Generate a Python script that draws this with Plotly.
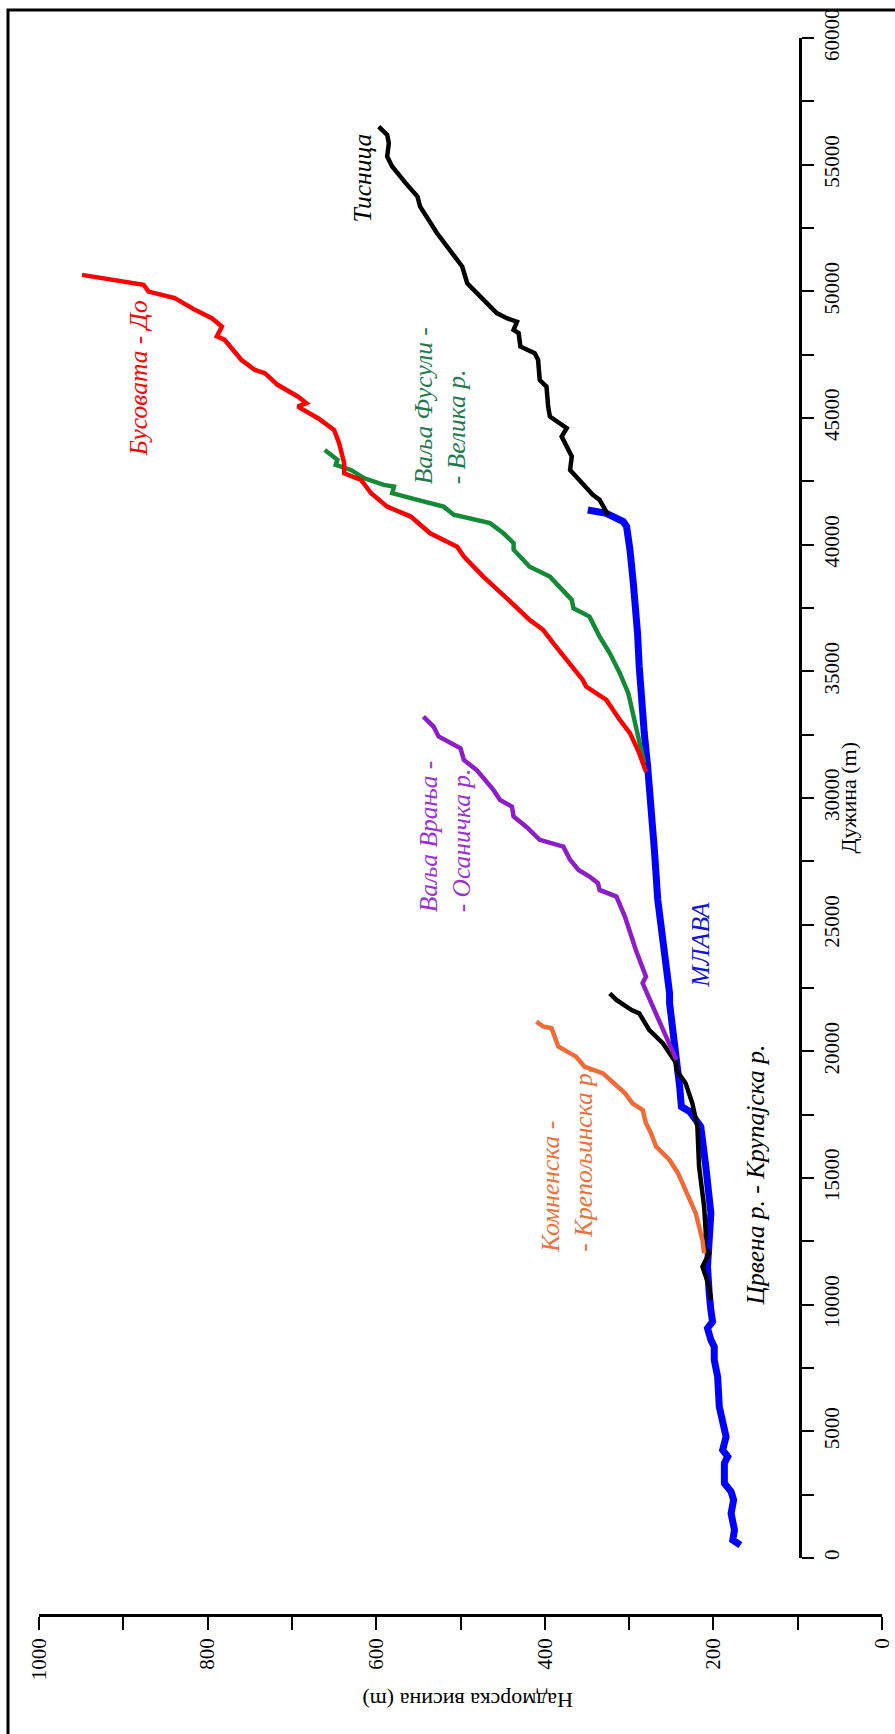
import plotly.graph_objects as go

# ---------------- data (length along river in m, elevation in m) ----------------
mlava_len = [510, 710, 1100, 1500, 1760, 2290, 2620, 2950, 3600, 3740, 4000, 4260, 4790, 5050,
             5650, 5970, 7160, 7420, 7820, 8340, 8610, 9070, 9330, 9790, 10120, 10460, 11500,
             12830, 13620, 15450, 17030, 17620, 17820, 18600, 19400, 20060, 20980, 21900,
             22290, 23340, 24130, 25980, 27950, 29920, 31240, 32560, 33870, 35190, 36510,
             37820, 38480, 39800, 40720, 40910, 41110, 41240, 41370]
mlava_elev = [168, 177, 175, 178, 179, 176, 179, 187, 187, 187, 183, 189, 185, 187,
              191, 193, 195, 197, 199, 199, 203, 207, 201, 203, 205, 205, 207,
              205, 203, 209, 215, 228, 238, 240, 243, 246, 248, 252,
              252, 256, 260, 266, 270, 274, 278, 282, 286, 288, 290,
              292, 295, 299, 303, 307, 319, 327, 349]

busovata_len = [31040, 31770, 32560, 33080, 33870, 34400, 34660, 35580, 36110, 36640, 37030,
                37820, 38740, 39530, 39920, 40450, 41110, 41500, 42030, 42560, 42820, 43220,
                44010, 44530, 44990, 45450, 45590, 45850, 46310, 46770, 46900, 47300, 48090,
                48220, 48610, 48940, 49270, 49730, 49990, 50260, 50650]
busovata_elev = [280, 288, 299, 311, 327, 351, 355, 378, 390, 402, 418,
                 443, 473, 496, 504, 536, 559, 587, 606, 618, 638, 638,
                 644, 650, 669, 693, 683, 693, 717, 732, 744, 760, 780,
                 789, 783, 795, 815, 839, 870, 876, 949]

fusuli_len = [31370, 32290, 33210, 34140, 34930, 35720, 36370, 37160, 37490, 37820, 38740,
              39130, 39800, 40060, 40450, 40850, 41180, 41500, 41770, 42030, 42290, 42360,
              42620, 42950, 43150, 43350, 43740]
fusuli_elev = [282, 288, 294, 301, 311, 323, 335, 347, 366, 368, 394,
               418, 437, 437, 449, 465, 508, 520, 551, 581, 579, 591,
               614, 630, 648, 646, 661]

tisnica_len = [41180, 41770, 41970, 42950, 43480, 43870, 44270, 44600, 45060, 45450, 46240,
               46500, 47300, 47560, 47820, 48350, 48480, 48800, 48940, 49140, 49660, 50320,
               50980, 51250, 52300, 53350, 53740, 54270, 54930, 55320, 55850, 56180, 56500]
tisnica_elev = [325, 335, 343, 370, 368, 374, 380, 374, 394, 396, 398,
                406, 408, 412, 429, 431, 437, 433, 445, 457, 473, 492,
                498, 504, 528, 548, 551, 565, 581, 587, 585, 587, 597]

vranja_len = [19660, 22690, 22950, 24000, 25320, 26110, 26370, 26640, 26900, 27160, 27560,
              28080, 28350, 28870, 29270, 29660, 29920, 30320, 31110, 31500, 31960, 32160,
              32430, 32820, 33210]
vranja_elev = [244, 284, 280, 292, 305, 315, 335, 337, 347, 360, 370,
               378, 406, 422, 437, 439, 453, 461, 481, 496, 500, 512,
               526, 532, 544]

crvena_len = [10190, 10710, 11110, 11500, 12030, 12290, 12820, 13870, 15450, 17030, 17950,
              18740, 19270, 19530, 20320, 20840, 21500, 21630, 22030, 22290]
crvena_elev = [203, 205, 209, 213, 205, 211, 209, 211, 217, 219, 225,
               233, 244, 244, 260, 276, 288, 297, 315, 323]

komnenska_len = [12030, 12550, 13610, 14400, 15190, 15710, 16240, 16770, 17160, 17690, 17950,
                 18350, 18800, 19130, 19400, 19790, 20190, 20910, 20980, 21170]
komnenska_elev = [211, 213, 221, 231, 242, 252, 268, 274, 280, 284, 296,
                  305, 321, 331, 353, 363, 384, 392, 402, 410]

len_ticks = list(range(0, 60001, 2500))
len_labels = [str(v) if v % 5000 == 0 else "" for v in len_ticks]
elev_ticks = list(range(0, 1001, 100))
elev_labels = [str(v) if v % 200 == 0 else "" for v in elev_ticks]

# ---------------- figure ----------------
W, H = 895, 1734
ML, MR, MT, MB = 39, 13, 38, 119
PW, PH = W - ML - MR, H - MT - MB

def px_x(px):
    return (px - ML) / PW

def px_y(py):
    return (H - MB - py) / PH

fig = go.Figure()

series = [
    (mlava_len, mlava_elev, "#0000FF", 7),
    (crvena_len, crvena_elev, "#000000", 4.5),
    (komnenska_len, komnenska_elev, "#F26A35", 4.5),
    (vranja_len, vranja_elev, "#8E1CC9", 4.5),
    (fusuli_len, fusuli_elev, "#138A36", 4.5),
    (busovata_len, busovata_elev, "#FF0000", 4.5),
    (tisnica_len, tisnica_elev, "#000000", 4.5),
]
for L, E, c, w in series:
    fig.add_trace(go.Scatter(x=E, y=L, mode="lines",
                             line=dict(color=c, width=w, shape="linear"),
                             hoverinfo="skip"))

serif = "Liberation Serif"

labels = [
    ("Тисница", 616, 54480, "#000000", "center"),
    ("Бусовата - До", 882, 46590, "#FF0000", "center"),
    ("Ваља Фусули -<br>- Велика р.", 525, 45480, "#1E7A4E", "left"),
    ("Ваља Врања -<br>- Осаничка р.", 518, 28500, "#9B30D9", "left"),
    ("МЛАВА", 215, 24200, "#1010E0", "center"),
    ("Комненска -<br>- Крепољинска р.", 374, 15710, "#F0703A", "left"),
    ("Црвена р. - Крупајска р.", 150, 15120, "#000000", "center"),
]
for txt, e, l, c, al in labels:
    fig.add_annotation(x=e, y=l, xref="x", yref="y", text=txt, showarrow=False,
                       textangle=-90, align=al,
                       font=dict(family=serif, size=25.5, color=c, style="italic"))

# axis titles (rotated with the chart)
fig.add_annotation(x=px_x(862), y=px_y(798), xref="paper", yref="paper",
                   text="Дужина (m)", showarrow=False, textangle=-90,
                   font=dict(family=serif, size=22, color="black"))
fig.add_annotation(x=px_x(468), y=px_y(1715), xref="paper", yref="paper",
                   text="Надморска висина (m)", showarrow=False, textangle=180,
                   font=dict(family=serif, size=22, color="black"))

# outer frame
fig.add_shape(type="rect", xref="paper", yref="paper",
              x0=px_x(8), x1=px_x(905), y0=px_y(1750), y1=px_y(10),
              line=dict(color="black", width=3), fillcolor="rgba(0,0,0,0)")

fig.update_layout(
    width=W, height=H,
    margin=dict(l=ML, r=MR, t=MT, b=MB, pad=0),
    paper_bgcolor="white", plot_bgcolor="white",
    showlegend=False,
    xaxis=dict(range=[1000, 0], domain=[0, 1], anchor="free", position=0,
               showline=True, linecolor="black", linewidth=2.5,
               ticks="outside", ticklen=13, tickwidth=2, tickcolor="black",
               tickvals=elev_ticks, ticktext=elev_labels, tickangle=-90,
               tickfont=dict(family=serif, size=21, color="black"),
               ticklabeloverflow="allow",
               showgrid=False, zeroline=False, automargin=False),
    yaxis=dict(range=[0, 60000], domain=[px_y(1558), 1], anchor="free",
               position=px_x(800), side="right",
               showline=True, linecolor="black", linewidth=2.5,
               ticks="outside", ticklen=12, tickwidth=2, tickcolor="black",
               tickvals=len_ticks, ticktext=len_labels, tickangle=-90,
               tickfont=dict(family=serif, size=21, color="black"),
               ticklabeloverflow="allow",
               showgrid=False, zeroline=False, automargin=False),
)

fig.write_html("out.html",
               config={"displayModeBar": False},
               post_script="document.body.style.margin='0px';"
                           "document.body.style.overflow='hidden';")
